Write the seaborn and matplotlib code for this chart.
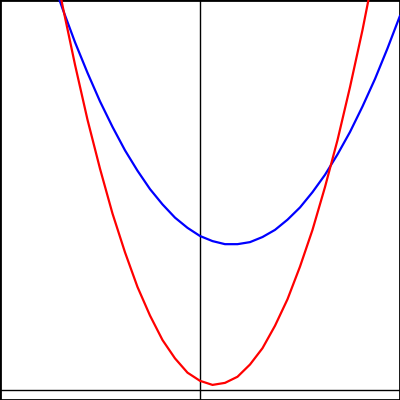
import numpy as np
import pandas as pd
import matplotlib
matplotlib.use("Agg")
import matplotlib.pyplot as plt
import seaborn as sns

x_vals = [-8, -7.5, -7, -6.5, -6, -5.5, -5, -4.5, -4, -3.5, -3, -2.5, -2, -1.5, -1, -0.5,
          0, 0.5, 1, 1.5, 2, 2.5, 3, 3.5, 4, 4.5, 5, 5.5, 6, 6.5, 7, 7.5, 8]
red_vals = [74.5, 66.1, 58.3, 50.9, 44.1, 37.7, 31.9, 26.5, 21.7, 17.3, 13.5, 10.1, 7.3, 4.9, 3.1, 1.7,
            0.9, 0.5, 0.7, 1.3, 2.5, 4.1, 6.3, 8.9, 12.1, 15.7, 19.9, 24.5, 29.7, 35.3, 41.5, 48.1, 55.3]
blue_vals = [57.5, 53.0, 48.7, 44.7, 40.9, 37.4, 34.1, 31.1, 28.3, 25.8, 23.5, 21.5, 19.7, 18.2, 16.9, 15.9,
             15.1, 14.6, 14.3, 14.3, 14.5, 15.0, 15.7, 16.7, 17.9, 19.4, 21.1, 23.1, 25.3, 27.8, 30.5, 33.5, 36.7]

df = pd.DataFrame({
    "x": x_vals * 2,
    "y": red_vals + blue_vals,
    "series": ["red"] * len(x_vals) + ["blue"] * len(x_vals),
})

sns.set_theme(style="white")
fig = plt.figure(figsize=(4, 4), dpi=100)
ax = fig.add_axes([0, 0, 1, 1])

ax.axhline(0, color="black", lw=1.0, zorder=1)
ax.axvline(0, color="black", lw=1.0, zorder=1)

sns.lineplot(data=df, x="x", y="y", hue="series",
             palette={"red": "#ff0000", "blue": "#0000ff"},
             hue_order=["blue", "red"], lw=1.6, legend=False, ax=ax,
             estimator=None, sort=False, zorder=3)

ax.set_xlim(-8, 8)
ax.set_ylim(-0.98, 38.24)
ax.set_xticks([])
ax.set_yticks([])
ax.set_xlabel("")
ax.set_ylabel("")
for s in ax.spines.values():
    s.set_visible(True)
    s.set_color("black")
    s.set_linewidth(2.0)

fig.savefig("out.png", dpi=100)
